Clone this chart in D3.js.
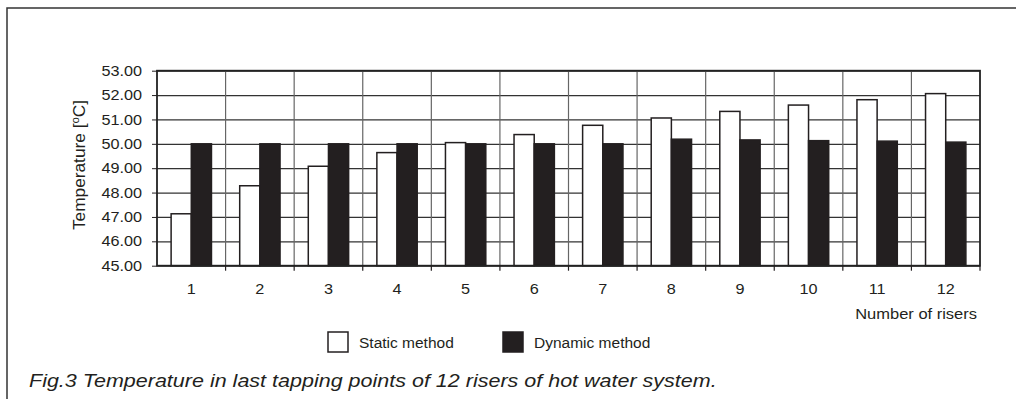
<!DOCTYPE html>
<html>
<head>
<meta charset="utf-8">
<script src="https://cdn.jsdelivr.net/npm/d3@7"></script>
<style>
  body { margin: 0; background: #fff; }
  text { font-family: "Liberation Sans", Arial, sans-serif; fill: #231f20; }
</style>
</head>
<body>
<script>
const categories = ["1","2","3","4","5","6","7","8","9","10","11","12"];
const staticVals  = [47.13, 48.28, 49.08, 49.64, 50.05, 50.38, 50.76, 51.06, 51.33, 51.59, 51.81, 52.06];
const dynamicVals = [50.00, 50.00, 50.00, 50.00, 50.00, 50.00, 50.00, 50.19, 50.16, 50.13, 50.11, 50.07];
const seriesNames = ["Static method", "Dynamic method"];
const yTicks = [45, 46, 47, 48, 49, 50, 51, 52, 53];

const W = 1016, H = 399,
  plotL = 157, plotR = 980, plotT = 70.7, plotB = 265.7,
  ink = "#231f20",
  fills = ["#ffffff", ink];

const svg = d3.select("body").append("svg")
  .attr("width", W).attr("height", H);

// page frame (top and left only)
svg.append("path")
  .attr("d", `M7,${H} L7,8 L${W},8`)
  .attr("fill", "none").attr("stroke", "#333").attr("stroke-width", 1.5);

const x = d3.scaleBand().domain(categories).range([plotL, plotR]).padding(0);
const xs = d3.scaleBand().domain(seriesNames).range([0, x.bandwidth()])
  .paddingInner(0).paddingOuter(0.7);
const y = d3.scaleLinear().domain([45, 53]).range([plotB, plotT]);

// horizontal grid
svg.append("g")
  .attr("transform", `translate(${plotL},0)`)
  .call(d3.axisLeft(y).tickValues(yTicks).tickSize(-(plotR - plotL)).tickFormat(""))
  .call(g => g.select(".domain").remove())
  .call(g => g.selectAll("line").attr("stroke", "#333").attr("stroke-width", 1.2));

// vertical grid at category boundaries
svg.append("g").selectAll("line")
  .data(categories.slice(1))
  .join("line")
  .attr("x1", d => x(d)).attr("x2", d => x(d))
  .attr("y1", plotT).attr("y2", plotB)
  .attr("stroke", "#666").attr("stroke-width", 1.2);

// bars
const rows = categories.map((c, i) => ({ c, vals: [staticVals[i], dynamicVals[i]] }));
svg.append("g").selectAll("g")
  .data(rows)
  .join("g")
  .attr("transform", d => `translate(${x(d.c)},0)`)
  .selectAll("rect")
  .data(d => d.vals.map((v, j) => ({ s: seriesNames[j], v, j })))
  .join("rect")
  .attr("x", d => xs(d.s))
  .attr("width", xs.bandwidth())
  .attr("y", d => y(d.v))
  .attr("height", d => y(45) - y(d.v))
  .attr("fill", d => fills[d.j])
  .attr("stroke", ink)
  .attr("stroke-width", 1.5);

// plot border
svg.append("rect")
  .attr("x", plotL).attr("y", plotT)
  .attr("width", plotR - plotL).attr("height", plotB - plotT)
  .attr("fill", "none").attr("stroke", "#222").attr("stroke-width", 1.8);

// y axis
svg.append("g")
  .attr("transform", `translate(${plotL},0)`)
  .call(d3.axisLeft(y).tickValues(yTicks).tickSize(5).tickPadding(10).tickFormat(d3.format(".2f")))
  .call(g => g.select(".domain").remove())
  .call(g => g.selectAll("line").attr("stroke", ink))
  .call(g => g.selectAll("text")
    .attr("font-size", 14.5).attr("fill", ink)
    .attr("x", -15 / 1.12)
    .attr("transform", "scale(1.12,1)"));

// x axis labels at centres, ticks at boundaries
svg.append("g")
  .attr("transform", `translate(0,${plotB})`)
  .call(d3.axisBottom(x).tickSize(0).tickPadding(0))
  .call(g => g.select(".domain").remove())
  .call(g => g.selectAll("text")
    .attr("font-size", 14.5).attr("fill", ink)
    .attr("y", 28).attr("dy", 0)
    .attr("transform", "scale(1.12,1)")
    .attr("x", 0));

svg.append("g").selectAll("line")
  .data(categories.slice(1).map(d => x(d)).concat([plotR]))
  .join("line")
  .attr("x1", d => d).attr("x2", d => d)
  .attr("y1", plotB).attr("y2", plotB + 5)
  .attr("stroke", ink).attr("stroke-width", 1.2);

// scaled text helper
function label(str, tx, ty, size, sx, anchor, italic) {
  return svg.append("text")
    .attr("transform", `translate(${tx},${ty}) scale(${sx},1)`)
    .attr("font-size", size)
    .attr("text-anchor", anchor)
    .attr("font-style", italic ? "italic" : "normal")
    .text(str);
}

label("Number of risers", 977, 319, 15, 1.1, "end", false);

// y title
const yt = svg.append("text")
  .attr("transform", "translate(85,165) rotate(-90) scale(1.08,1)")
  .attr("font-size", 16)
  .attr("text-anchor", "middle");
yt.append("tspan").text("Temperature [");
yt.append("tspan").attr("font-size", 10.5).attr("dy", -6).text("o");
yt.append("tspan").attr("dy", 6).text("C]");

// legend
const legend = svg.append("g");
const legendX = [328, 503];
seriesNames.forEach((s, i) => {
  legend.append("rect")
    .attr("x", legendX[i]).attr("y", 332)
    .attr("width", 20).attr("height", 20)
    .attr("fill", fills[i]).attr("stroke", ink).attr("stroke-width", 1.5);
  legend.append("text")
    .attr("x", legendX[i] + 31).attr("y", 348)
    .attr("font-size", 15.5)
    .text(s);
});

label("Fig.3 Temperature in last tapping points of 12 risers of hot water system.", 29, 387, 18, 1.195, "start", true);
</script>
</body>
</html>
